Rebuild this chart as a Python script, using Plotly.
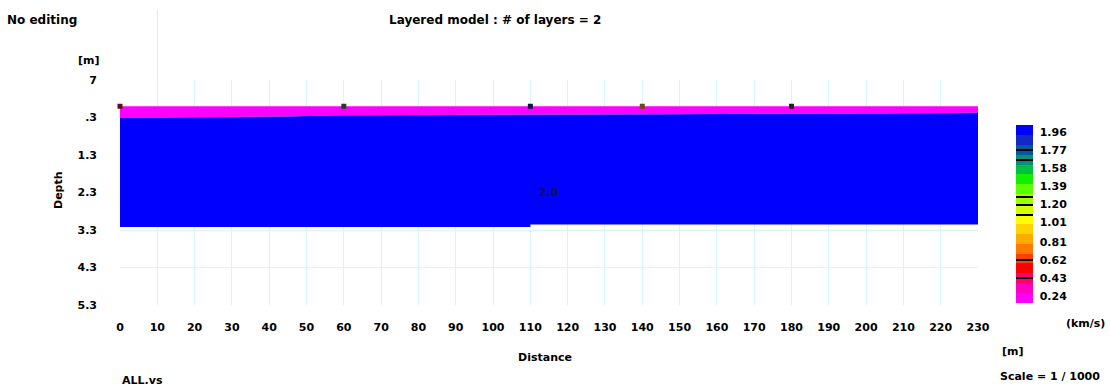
import plotly.graph_objects as go

# Layered velocity model (2 layers)
surface_x = [0, 230]
surface_d = [0.0, 0.0]

interface_x = [0, 15, 45, 60, 110, 150, 205, 230]
interface_d = [0.31, 0.30, 0.27, 0.24, 0.23, 0.21, 0.19, 0.17]

bottom_x = [0, 110, 110, 230]
bottom_d = [3.22, 3.22, 3.15, 3.15]

layer_velocity = [0.20, 2.00]   # km/s
layer_label = ["", "2.0"]
label_pos = [None, (115, 2.3)]

shot_x = [0, 60, 110, 140, 180]
shot_color = ["#5a1010", "#1f4020", "#101050", "#6a4a10", "#202020"]

x_ticks = list(range(0, 231, 10))
y_tickvals = [-0.7, 0.3, 1.3, 2.3, 3.3, 4.3, 5.3]
y_ticktext = ["7", ".3", "1.3", "2.3", "3.3", "4.3", "5.3"]

cbar_ticks = [1.96, 1.77, 1.58, 1.39, 1.20, 1.01, 0.81, 0.62, 0.43, 0.24]
cbar_text = ["1.96", "1.77", "1.58", "1.39", "1.20", "1.01", "0.81", "0.62", "0.43", "0.24"]
vmin, vmax = 0.167, 2.033

# banded palette, low velocity -> high velocity
band_colors = [
    "#ff00ff", "#ff00c0", "#ff0070", "#ff0000", "#ff4000", "#ff7800",
    "#ffaa00", "#ffd400", "#ffff00", "#d4ff00", "#a0ff00", "#5aff00",
    "#10f000", "#00c040", "#00907a", "#005a9a", "#1428c8", "#0000ff",
]

n = len(band_colors)
colorscale = []
for i, c in enumerate(band_colors):
    colorscale.append([i / n, c])
    colorscale.append([(i + 1) / n, c])


def color_for(v):
    t = (v - vmin) / (vmax - vmin)
    idx = min(n - 1, max(0, int(t * n)))
    return band_colors[idx]


FONT = "DejaVu Sans, sans-serif"
TICKFONT = dict(family=FONT, size=11, color="#000000", weight="bold")

# plot area in pixels
PL, PR, PT, PB = 120, 978, 80, 305
PW, PH = PR - PL, PB - PT


def px_to_paper(px, py):
    return (px - PL) / PW, 1 - (py - PT) / PH


fig = go.Figure()

# layer 1: surface to interface
poly1_x = surface_x + interface_x[::-1]
poly1_y = surface_d + interface_d[::-1]
fig.add_trace(go.Scatter(x=poly1_x, y=poly1_y, fill="toself", mode="lines",
                         line=dict(width=0), fillcolor=color_for(layer_velocity[0]),
                         hoverinfo="skip", showlegend=False))

# layer 2: interface to model bottom
poly2_x = interface_x + bottom_x[::-1]
poly2_y = interface_d + bottom_d[::-1]
fig.add_trace(go.Scatter(x=poly2_x, y=poly2_y, fill="toself", mode="lines",
                         line=dict(width=0), fillcolor=color_for(layer_velocity[1]),
                         hoverinfo="skip", showlegend=False))

# shot markers on the surface
fig.add_trace(go.Scatter(x=shot_x, y=[surface_d[0]] * len(shot_x), mode="markers",
                         marker=dict(symbol="square", size=5, color=shot_color),
                         hoverinfo="skip", showlegend=False, cliponaxis=False))

# colour scale
cbx, cby = px_to_paper(1016, (125 + 303) / 2)
fig.add_trace(go.Scatter(
    x=[None], y=[None], mode="markers", showlegend=False, hoverinfo="skip",
    marker=dict(
        color=[vmin], cmin=vmin, cmax=vmax, colorscale=colorscale, showscale=True,
        colorbar=dict(
            x=cbx, xanchor="left", y=cby, yanchor="middle",
            thickness=17, thicknessmode="pixels",
            len=178, lenmode="pixels", xpad=0, ypad=0,
            outlinewidth=0, ticks="outside", ticklen=5, tickcolor="rgba(0,0,0,0)",
            tickvals=cbar_ticks, ticktext=cbar_text,
            tickfont=TICKFONT,
        ),
    ),
))

for i, lbl in enumerate(layer_label):
    if lbl:
        fig.add_annotation(x=label_pos[i][0], y=label_pos[i][1], text="<b>" + lbl + "</b>",
                           showarrow=False, font=dict(family=FONT, size=11, color="#101050"))

texts = [
    (5, 20, "No editing", "left", 0, 12),
    (495, 20, "Layered model : # of layers = 2", "center", 0, 12),
    (89, 60, "[m]", "center", 0, 11),
    (545, 357, "Distance", "center", 0, 11),
    (1013, 351, "[m]", "center", 0, 11),
    (1102, 376, "Scale = 1 / 1000", "right", 0, 11),
    (120, 380, "ALL.vs", "left", 0, 11),
    (1085, 323, "(km/s)", "center", 0, 11),
    (58, 190, "Depth", "center", -90, 11),
]
for tx, ty, t, anchor, ang, sz in texts:
    ax, ay = px_to_paper(tx, ty)
    fig.add_annotation(x=ax, y=ay, xref="paper", yref="paper", text="<b>" + t + "</b>",
                       xanchor=anchor, yanchor="middle", textangle=ang, showarrow=False,
                       font=dict(family=FONT, size=sz, color="#000000"))

# separator lines inside the colour bar
for yp in [150, 160, 197, 205, 215, 260, 278]:
    ax, ay = px_to_paper(1016, yp)
    fig.add_annotation(x=ax, y=ay, xref="paper", yref="paper", text=" ",
                       xanchor="left", yanchor="middle", showarrow=False,
                       width=17, height=2, borderpad=0, borderwidth=0,
                       bgcolor="#000000", font=dict(size=1))

# faint reference line above the plot
fig.add_shape(type="line", xref="x", yref="paper", x0=10, x1=10, y0=1, y1=1 + 70 / PH,
              line=dict(color="#e6e6e6", width=1))

fig.update_layout(
    width=1110, height=390,
    margin=dict(l=PL, r=1110 - PR, t=PT, b=390 - PB),
    paper_bgcolor="#ffffff", plot_bgcolor="#ffffff",
    font=dict(family=FONT, size=11, color="#000000"),
    xaxis=dict(range=[0, 230], tickvals=x_ticks, showgrid=True, gridcolor="#d8f4fc",
               gridwidth=1, zeroline=False, showline=False, ticks="",
               ticklabelstandoff=14, tickfont=TICKFONT),
    yaxis=dict(range=[5.3, -0.7], tickvals=y_tickvals, ticktext=y_ticktext, showgrid=True,
               gridcolor="#d8f4fc", gridwidth=1, zeroline=False, showline=False, ticks="",
               ticklabelstandoff=22, tickfont=TICKFONT),
)

fig.write_html("out.html")
